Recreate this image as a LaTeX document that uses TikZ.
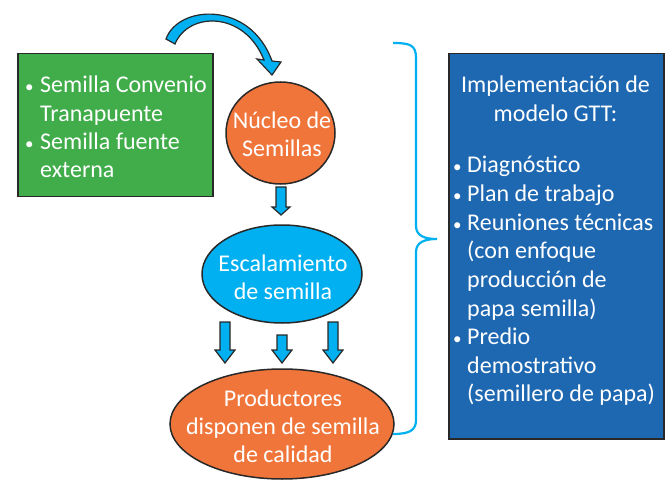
\documentclass[tikz,border=0pt]{standalone}
\usepackage{fontspec}
\setmainfont{Carlito}
\usetikzlibrary{shapes.geometric}
\definecolor{gbox}{RGB}{64,173,74}
\definecolor{orng}{RGB}{240,117,58}
\definecolor{lblue}{RGB}{0,176,240}
\definecolor{dblue}{RGB}{30,104,178}
\definecolor{edge}{RGB}{40,40,40}
\tikzset{
  txt/.style={inner sep=0pt, anchor=base west, text=white, font=\fontsize{24}{28.6}\selectfont},
  bul/.style={inner sep=0pt, anchor=base west, text=white, font=\fontsize{17}{20}\selectfont},
  ctxt/.style={inner sep=0pt, anchor=base, text=white, font=\fontsize{24}{28.6}\selectfont},
  blk/.style={fill=lblue, draw=edge, line width=1.2pt, line join=miter},
  oval/.style={ellipse, draw=edge, line width=1.5pt, inner sep=0pt},
  boxstyle/.style={draw=edge, line width=1.5pt},
  pics/dnarrow/.style args={#1/#2/#3}{code={
    \draw[blk] (-5,0) -- (5,0) -- (5,#1-#2) -- (#3,#1-#2) -- (0,#1) -- (-#3,#1-#2) -- (-5,#1-#2) -- cycle;}}
}
\begin{document}
\begin{tikzpicture}[x=1pt,y=-1pt]
\useasboundingbox (0,0) rectangle (669,481);
% green box
\node[boxstyle, fill=gbox, minimum width=195pt, minimum height=143pt, inner sep=0pt, anchor=north west] (green) at (17,53) {};
\node[bul] (g1b) at (25,93) {\textbullet};
\node[txt] (g1) at (40,93) {Semilla Convenio};
\node[txt] (g2) at (40,122) {Tranapuente};
\node[bul] (g3b) at (25,150) {\textbullet};
\node[txt] (g3) at (40,150) {Semilla fuente};
\node[txt] (g4) at (40,178) {externa};
% curved arrow
\draw[blk] (166,39) .. controls (178,5) and (250,0) .. (272,61) -- (281,62) -- (272,75) -- (257,59) -- (264,60) .. controls (244,10) and (188,12) .. (175,44) -- cycle;
% ellipses
\node[oval, fill=orng, minimum width=109pt, minimum height=102pt] (nucleo) at (280.5,133) {};
\node[ctxt] (n1) at (282,129) {Núcleo de};
\node[ctxt] (n2) at (282,157) {Semillas};
\node[oval, fill=lblue, minimum width=160pt, minimum height=98pt] (escal) at (282,274) {};
\node[ctxt] (e1) at (283,271) {Escalamiento};
\node[ctxt] (e2) at (283,299) {de semilla};
\node[oval, fill=orng, minimum width=224pt, minimum height=110pt] (prod) at (282,424) {};
\node[ctxt] (p1) at (283,406) {Productores};
\node[ctxt] (p2) at (283,434) {disponen de semilla};
\node[ctxt] (p3) at (283,462) {de calidad};
% block arrows
\pic (a0) at (281,187) {dnarrow=28/8/9};
\pic (a1) at (225,322) {dnarrow=41/13/10};
\pic (a2) at (282,335) {dnarrow=28/13/10};
\pic (a3) at (333,322) {dnarrow=41/13/10};
% brace
\draw[lblue, line width=2.2pt] (393,43) .. controls (410,43) and (416,45) .. (416,58) -- (416,226) .. controls (416,236) and (425,239) .. (437,239) .. controls (425,239) and (416,242) .. (416,252) -- (416,420) .. controls (416,430) and (410,434) .. (393,434);
% blue box
\node[boxstyle, fill=dblue, minimum width=215pt, minimum height=385pt, inner sep=0pt, anchor=north west] (blue) at (448,53) {};
\node[ctxt] (b0) at (555.5,93) {Implementación de};
\node[ctxt] (b1) at (555.5,122) {modelo GTT:};
\node[bul] (b2b) at (453,173) {\textbullet};
\node[txt] (b2) at (467,173) {Diagnóstico};
\node[bul] (b3b) at (453,201.6) {\textbullet};
\node[txt] (b3) at (467,201.6) {Plan de trabajo};
\node[bul] (b4b) at (453,230.2) {\textbullet};
\node[txt] (b4) at (467,230.2) {Reuniones técnicas};
\node[txt] (b5) at (467,258.8) {(con enfoque};
\node[txt] (b6) at (467,287.4) {producción de};
\node[txt] (b7) at (467,316) {papa semilla)};
\node[bul] (b8b) at (453,344.6) {\textbullet};
\node[txt] (b8) at (467,344.6) {Predio};
\node[txt] (b9) at (467,373.2) {demostrativo};
\node[txt] (b10) at (467,401.8) {(semillero de papa)};
\end{tikzpicture}
\end{document}
